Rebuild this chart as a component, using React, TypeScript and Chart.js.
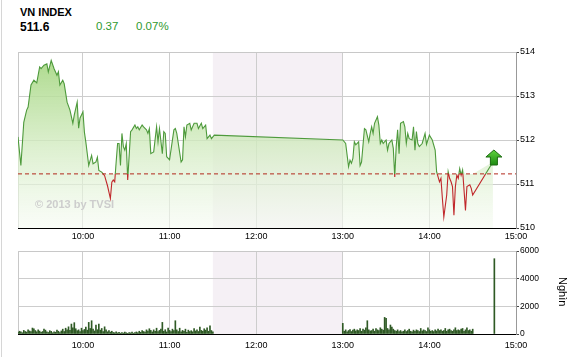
import React, { useEffect, useRef } from 'react';
import { Chart, registerables } from 'chart.js';
Chart.register(...registerables);

// ---------- data ----------
const indexName = 'VN INDEX';
const lastValue = '511.6';
const change = '0.37';
const changePct = '0.07%';
const refValue = 511.23;
const lunchStart = '11:30';
const lunchEnd = '13:00';
const axisStart = '09:15';
const axisEnd = '15:00';
const hourTicks = ['10:00', '11:00', '12:00', '13:00', '14:00', '15:00'];
const priceTicks = [510, 511, 512, 513, 514];
const volumeTicks = [0, 2000, 4000, 6000];

const priceTimes = [
  '09:15','09:17','09:19','09:21','09:22','09:24','09:26','09:28','09:30','09:31',
  '09:33','09:35','09:36','09:38','09:40','09:42','09:43','09:44','09:46','09:47',
  '09:49','09:51','09:53','09:54','09:56','09:57','09:58','10:00','10:01','10:02',
  '10:04','10:06','10:07','10:09','10:10','10:11','10:13','10:15','10:17','10:19',
  '10:20','10:21','10:22','10:23','10:24','10:25','10:26','10:27','10:28','10:29',
  '10:30','10:31','10:33','10:34','10:36','10:37','10:38','10:39','10:41','10:42',
  '10:44','10:45','10:46','10:47','10:49','10:51','10:52','10:53','10:55','10:56',
  '10:57','10:58','11:00','11:03','11:04','11:05','11:08','11:09','11:10','11:11',
  '11:12','11:14','11:15','11:17','11:19','11:20','11:22','11:23','11:25','11:26',
  '11:28','11:29','11:31',
  '13:00','13:02','13:04','13:05','13:06','13:07','13:08','13:09','13:11','13:12',
  '13:13','13:15','13:16','13:18','13:19','13:20','13:21','13:22','13:24','13:25',
  '13:26','13:27','13:28','13:30','13:31','13:32','13:34','13:35','13:36','13:37',
  '13:38','13:39','13:40','13:42','13:43','13:44','13:45','13:46','13:48','13:49',
  '13:50','13:51','13:52','13:53','13:55','13:57','13:58','14:00','14:02','14:04',
  '14:05','14:07','14:08','14:09','14:10','14:12','14:13','14:14','14:15','14:16',
  '14:17','14:18','14:19','14:20','14:21','14:22','14:23','14:25','14:26','14:28',
  '14:29','14:30','14:44',
];
const priceValues = [
  512.07,511.42,512.40,512.68,512.75,513.25,513.36,513.30,513.66,513.62,
  513.70,513.73,513.55,513.81,513.62,513.47,513.55,513.25,513.36,513.28,
  512.86,512.68,512.38,512.57,512.86,512.27,512.50,512.64,512.18,511.95,
  511.42,511.65,511.46,511.50,511.61,511.31,511.27,511.19,510.96,510.67,
  511.04,511.09,511.05,511.50,511.92,511.92,511.42,512.15,511.85,511.77,
  511.92,511.09,512.19,512.23,512.34,512.26,512.30,512.23,512.34,512.30,
  512.23,512.15,512.26,511.69,511.73,512.30,511.96,512.26,511.69,512.19,
  512.15,511.62,511.55,512.23,512.26,512.15,511.50,511.55,512.30,512.07,
  512.34,512.38,512.23,512.38,512.38,512.26,512.38,512.26,512.34,512.03,
  512.11,512.03,512.11,
  512.00,511.92,511.39,511.54,511.47,511.58,511.96,511.89,511.96,511.42,
  511.50,512.26,512.23,511.96,512.15,512.30,512.15,512.38,512.53,512.34,
  511.92,512.00,511.92,512.00,511.77,511.92,512.00,511.81,511.16,511.85,
  512.23,511.69,512.38,512.42,512.30,511.92,512.15,512.03,512.00,512.30,
  511.77,512.19,511.92,511.85,511.92,512.15,511.90,512.11,512.00,511.77,
  511.28,511.05,511.13,510.67,510.25,510.75,511.28,511.13,511.05,510.94,
  510.29,510.94,511.20,511.13,511.35,511.20,511.32,510.40,510.94,510.98,
  510.90,510.75,511.50,
];

const morningVolumeStart = '09:15';
const morningVolume = [
  120,200,150,90,260,180,140,310,220,170,
  430,380,250,160,300,210,120,180,350,280,
  150,110,240,190,90,160,130,280,200,110,
  220,350,180,420,300,520,260,720,450,820,
  380,240,300,180,420,250,330,500,280,840,
  400,960,350,220,650,310,720,280,400,180,
  520,300,160,250,140,200,110,90,150,80,
  120,60,100,70,140,90,50,110,80,130,
  60,100,150,90,200,120,250,180,140,300,
  220,380,260,150,300,200,420,180,260,350,
  840,200,310,150,420,260,180,350,240,960,
  300,180,420,150,260,200,350,120,280,180,
  240,160,400,220,300,180,500,260,200,380,
  280,450,200,600,250,150,
];
const afternoonVolumeStart = '13:00';
const afternoonVolume = [
  770,200,300,150,250,320,180,280,350,220,
  300,250,400,200,350,280,450,960,300,220,
  250,350,200,400,300,250,450,350,280,1200,
  1130,400,300,650,500,350,250,200,300,180,
  250,150,200,300,180,250,350,200,150,280,
  200,300,250,180,400,220,300,250,180,450,
  300,200,250,180,300,220,350,250,300,200,
  250,400,200,300,350,250,200,300,450,250,
  300,250,350,400,200,300,450,250,300,200,
  350,
];
const atcTime = '14:45';
const atcVolume = 5450;

// ---------- helpers ----------
const toMin = (t: string) => {
  const [h, m] = t.split(':').map(Number);
  return h * 60 + m;
};
const fmtMin = (v: number) => {
  const h = Math.floor(v / 60);
  const m = Math.round(v - h * 60);
  return `${h}:${m < 10 ? '0' + m : m}`;
};

const FONT_FAMILY = 'Arial, "Liberation Sans", sans-serif';
const GREEN = '#4e9a3c';
const RED = '#c0282b';
const GRID = '#cdcdcd';
const LUNCH = '#f5f0f5';

const lunchPlugin = {
  id: 'lunchShade',
  beforeDraw(chart: any) {
    const { ctx, chartArea, scales } = chart;
    if (!chartArea) return;
    const x0 = scales.x.getPixelForValue(toMin(lunchStart));
    const x1 = scales.x.getPixelForValue(toMin(lunchEnd));
    ctx.save();
    ctx.fillStyle = LUNCH;
    ctx.fillRect(x0, chartArea.top, x1 - x0, chartArea.bottom - chartArea.top);
    ctx.restore();
  },
  beforeDatasetsDraw(chart: any) {
    const { ctx, chartArea } = chart;
    ctx.save();
    ctx.strokeStyle = '#c8c8c8';
    ctx.lineWidth = 1;
    ctx.beginPath();
    ctx.moveTo(Math.round(chartArea.left) + 0.5, chartArea.bottom);
    ctx.lineTo(Math.round(chartArea.left) + 0.5, Math.round(chartArea.top) + 0.5);
    ctx.lineTo(chartArea.right, Math.round(chartArea.top) + 0.5);
    ctx.stroke();
    ctx.restore();
  },
};

const refClipPlugin = {
  id: 'refClip',
  beforeDatasetDraw(chart: any, args: any) {
    const ds = chart.data.datasets[args.index];
    if (!ds.clipSide) return;
    const a = chart.chartArea;
    const y = chart.scales.y.getPixelForValue(refValue);
    const ctx = chart.ctx;
    ctx.save();
    ctx.beginPath();
    if (ds.clipSide === 'above') ctx.rect(a.left - 2, a.top - 5, a.right - a.left + 4, y - a.top + 5);
    else ctx.rect(a.left - 2, y, a.right - a.left + 4, a.bottom - y + 5);
    ctx.clip();
  },
  afterDatasetDraw(chart: any, args: any) {
    const ds = chart.data.datasets[args.index];
    if (!ds.clipSide) return;
    chart.ctx.restore();
  },
};

const arrowPlugin = {
  id: 'upArrow',
  afterDatasetsDraw(chart: any) {
    const meta = chart.getDatasetMeta(1);
    const pts = meta.data;
    if (!pts || !pts.length) return;
    const p = pts[pts.length - 1];
    const cx = p.x + 1;
    const by = p.y + 3;
    const ctx = chart.ctx;
    ctx.save();
    const g = ctx.createLinearGradient(0, by - 15, 0, by);
    g.addColorStop(0, '#5fd43e');
    g.addColorStop(1, '#1e8a12');
    ctx.fillStyle = g;
    ctx.strokeStyle = '#1b6a10';
    ctx.lineWidth = 1;
    ctx.beginPath();
    ctx.moveTo(cx, by - 15);
    ctx.lineTo(cx + 8, by - 8);
    ctx.lineTo(cx + 3.5, by - 8);
    ctx.lineTo(cx + 3.5, by);
    ctx.lineTo(cx - 3.5, by);
    ctx.lineTo(cx - 3.5, by - 8);
    ctx.lineTo(cx - 8, by - 8);
    ctx.closePath();
    ctx.fill();
    ctx.stroke();
    ctx.restore();
  },
};

const xTickBuild = (s: any) => {
  s.ticks = hourTicks.map((t) => ({ value: toMin(t) }));
};

export default function App() {
  const topRef = useRef<HTMLCanvasElement>(null);
  const volRef = useRef<HTMLCanvasElement>(null);

  useEffect(() => {
    const pricePts = priceTimes.map((t, i) => ({ x: toMin(t), y: priceValues[i] }));
    const fillPts = priceTimes.map((t, i) => ({ x: toMin(t), y: Math.max(priceValues[i], refValue) }));
    const refPts = [
      { x: toMin(axisStart), y: refValue },
      { x: toMin(axisEnd), y: refValue },
    ];
    const tickFont = { family: FONT_FAMILY, size: 9 };

    const top = new Chart(topRef.current!, {
      type: 'line',
      data: {
        datasets: [
          {
            data: fillPts,
            order: 3,
            borderWidth: 0,
            pointRadius: 0,
            fill: 'start',
            backgroundColor: (c: any) => {
              const a = c.chart.chartArea;
              if (!a) return 'rgba(0,0,0,0)';
              const g = c.chart.ctx.createLinearGradient(0, a.top, 0, a.bottom);
              g.addColorStop(0, 'rgba(160,212,122,0.9)');
              g.addColorStop(0.55, 'rgba(212,236,195,0.78)');
              g.addColorStop(1, 'rgba(246,251,243,0.6)');
              return g;
            },
          },
          { data: pricePts, order: 1, borderColor: GREEN, borderWidth: 1.1, pointRadius: 0, fill: false, clipSide: 'above' } as any,
          { data: pricePts, order: 1, borderColor: RED, borderWidth: 1.1, pointRadius: 0, fill: false, clipSide: 'below' } as any,
          { data: refPts, order: 0, borderColor: '#b3281c', borderWidth: 1, borderDash: [4, 3], pointRadius: 0, fill: false },
        ],
      },
      options: {
        animation: false,
        responsive: false,
        maintainAspectRatio: false,
        layout: { padding: { left: 18, top: 12, right: 0, bottom: 0 } },
        plugins: { legend: { display: false }, tooltip: { enabled: false } },
        elements: { line: { tension: 0 } },
        scales: {
          x: {
            type: 'linear',
            min: toMin(axisStart),
            max: toMin(axisEnd),
            afterBuildTicks: xTickBuild,
            afterFit: (s: any) => { s.height = 17; },
            grid: { color: GRID, drawTicks: false },
            border: { color: '#000' },
            ticks: { padding: 3, font: tickFont, color: '#000', maxRotation: 0, autoSkip: false, callback: (v: any) => fmtMin(v) },
          },
          y: {
            position: 'right',
            min: priceTicks[0],
            max: priceTicks[priceTicks.length - 1],
            afterBuildTicks: (s: any) => { s.ticks = priceTicks.map((v) => ({ value: v })); },
            afterFit: (s: any) => { s.width = 63; },
            grid: { color: GRID, tickLength: 3, tickColor: '#444' },
            border: { color: '#999' },
            ticks: { padding: 1, font: tickFont, color: '#000', callback: (v: any) => String(v) },
          },
        },
      } as any,
      plugins: [lunchPlugin, refClipPlugin, arrowPlugin],
    });

    const volPts = [
      ...morningVolume.map((v, i) => ({ x: toMin(morningVolumeStart) + i, y: v })),
      ...afternoonVolume.map((v, i) => ({ x: toMin(afternoonVolumeStart) + i, y: v })),
      { x: toMin(atcTime), y: atcVolume },
    ];

    const vol = new Chart(volRef.current!, {
      type: 'bar',
      data: {
        datasets: [
          { data: volPts, backgroundColor: '#2f5a25', barThickness: 1, borderWidth: 0 },
        ],
      },
      options: {
        animation: false,
        responsive: false,
        maintainAspectRatio: false,
        layout: { padding: { left: 18, top: 6, right: 0, bottom: 0 } },
        plugins: { legend: { display: false }, tooltip: { enabled: false } },
        scales: {
          x: {
            type: 'linear',
            offset: false,
            min: toMin(axisStart),
            max: toMin(axisEnd),
            afterBuildTicks: xTickBuild,
            afterFit: (s: any) => { s.height = 23; },
            grid: { color: GRID, drawTicks: false, offset: false },
            border: { color: '#000' },
            ticks: { padding: 6, font: tickFont, color: '#000', maxRotation: 0, autoSkip: false, callback: (v: any) => fmtMin(v) },
          },
          y: {
            position: 'right',
            min: volumeTicks[0],
            max: volumeTicks[volumeTicks.length - 1],
            afterBuildTicks: (s: any) => { s.ticks = volumeTicks.map((v) => ({ value: v })); },
            afterFit: (s: any) => { s.width = 63; },
            grid: { color: GRID, tickLength: 3, tickColor: '#444' },
            border: { color: '#999' },
            ticks: { padding: 1, font: { family: FONT_FAMILY, size: 8.5 }, color: '#000', callback: (v: any) => String(v) },
          },
        },
      } as any,
      plugins: [lunchPlugin],
    });

    return () => {
      top.destroy();
      vol.destroy();
    };
  }, []);

  const txt = (extra: any) => ({ position: 'absolute', lineHeight: 1, whiteSpace: 'nowrap', fontFamily: FONT_FAMILY, ...extra });

  return (
    <div style={{ position: 'absolute', left: 0, top: 0, width: 579, height: 357, background: '#fff', overflow: 'hidden' }}>
      <div style={{ position: 'absolute', left: 1, top: 0, width: 1, height: 357, background: '#d6d6d6' }} />
      <div style={txt({ left: 20, top: 7, fontSize: 11, fontWeight: 'bold', color: '#000' })}>{indexName}</div>
      <div style={txt({ left: 20, top: 20.5, fontSize: 12, fontWeight: 'bold', color: '#000' })}>{lastValue}</div>
      <div style={txt({ left: 96, top: 21, fontSize: 11.5, color: '#2f9a2f' })}>{change}</div>
      <div style={txt({ left: 136, top: 21, fontSize: 11.5, color: '#2f9a2f' })}>{changePct}</div>
      <canvas ref={topRef} width={579} height={205} style={{ position: 'absolute', left: 0, top: 40, width: 579, height: 205 }} />
      <canvas ref={volRef} width={579} height={112} style={{ position: 'absolute', left: 0, top: 245, width: 579, height: 112 }} />
      <div style={txt({ left: 35, top: 198.7, fontSize: 11, fontWeight: 'bold', color: '#cdcdcd', pointerEvents: 'none' })}>© 2013 by TVSI</div>
      <div style={txt({ left: 557, top: 277, fontSize: 11, color: '#000', writingMode: 'vertical-rl' })}>Nghìn</div>
    </div>
  );
}
